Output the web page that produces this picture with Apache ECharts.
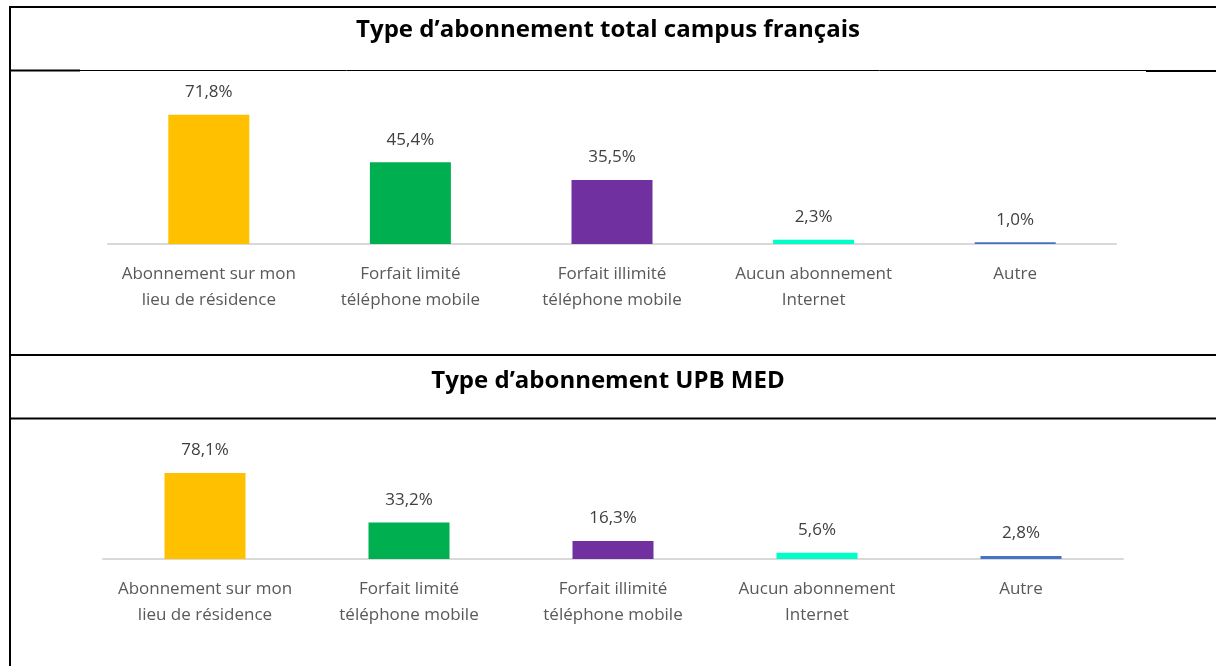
<!DOCTYPE html>
<html>
<head>
<meta charset="utf-8">
<script src="https://cdn.jsdelivr.net/npm/echarts@6/dist/echarts.min.js"></script>
<style>
  html, body { margin: 0; padding: 0; background: #fff; }
  #chart { width: 1216px; height: 666px; }
</style>
</head>
<body>
<div id="chart"></div>
<script>
// Data
const categories = [
  'Abonnement sur mon\nlieu de résidence',
  'Forfait limité\ntéléphone mobile',
  'Forfait illimité\ntéléphone mobile',
  'Aucun abonnement\nInternet',
  'Autre',
]
const campusValues = [71.8, 45.4, 35.5, 2.3, 1.0]
const upbValues = [78.1, 33.2, 16.3, 5.6, 2.8]
const barColors = ['#FFC000', '#00B050', '#7030A0', '#00FFC8', '#4472C4']
const titles = ['Type d’abonnement total campus français', 'Type d’abonnement UPB MED']

const font = '"Open Sans", "Noto Sans", sans-serif'

const chart = echarts.init(document.getElementById('chart'))

function makeSeries(values, idx) {
  return {
    type: 'bar',
    xAxisIndex: idx,
    yAxisIndex: idx,
    barWidth: 81,
    animation: false,
    data: values.map((v, i) => ({ value: v, itemStyle: { color: barColors[i] } })),
    label: {
      show: true,
      position: 'top',
      distance: 14,
      fontFamily: font,
      fontSize: 17,
      color: '#404040',
      formatter: (p) => p.value.toFixed(1).replace('.', ',') + '%',
    },
  }
}

function makeX(idx) {
  return {
    type: 'category',
    gridIndex: idx,
    data: categories,
    axisLine: { lineStyle: { color: '#D9D9D9', width: 2 } },
    axisTick: { show: false },
    axisLabel: {
      interval: 0,
      margin: 17,
      fontFamily: font,
      fontSize: 17,
      lineHeight: 26,
      color: '#595959',
    },
  }
}

function makeY(idx) {
  return {
    type: 'value',
    gridIndex: idx,
    min: 0,
    max: 80,
    show: false,
    splitLine: { show: false },
  }
}

const line = (x1, y1, x2, y2, w) => ({
  type: 'line',
  shape: { x1, y1, x2, y2 },
  style: { stroke: '#000', lineWidth: w },
  silent: true,
})

chart.setOption({
  animation: false,
  title: [
    {
      text: titles[0],
      left: 'center',
      top: 13,
      textStyle: { fontFamily: font, fontWeight: 'bold', fontSize: 24, color: '#000' },
    },
    {
      text: titles[1],
      left: 'center',
      top: 364,
      textStyle: { fontFamily: font, fontWeight: 'bold', fontSize: 24, color: '#000' },
    },
  ],
  grid: [
    { left: 108, right: 100, top: 100, height: 144 },
    { left: 103, right: 93, top: 471, height: 88 },
  ],
  xAxis: [makeX(0), makeX(1)],
  yAxis: [makeY(0), makeY(1)],
  series: [makeSeries(campusValues, 0), makeSeries(upbValues, 1)],
  graphic: [
    // table borders
    line(9, 7, 1216, 7, 2),
    line(10, 6, 10, 666, 2),
    line(80, 70.5, 1146, 70.5, 1),
    line(9, 70.5, 80, 70.5, 2),
    line(1146, 71, 1216, 71, 2),
    line(9, 355, 1216, 355, 2),
    line(9, 418.5, 1216, 418.5, 2),
  ],
})
</script>
</body>
</html>
